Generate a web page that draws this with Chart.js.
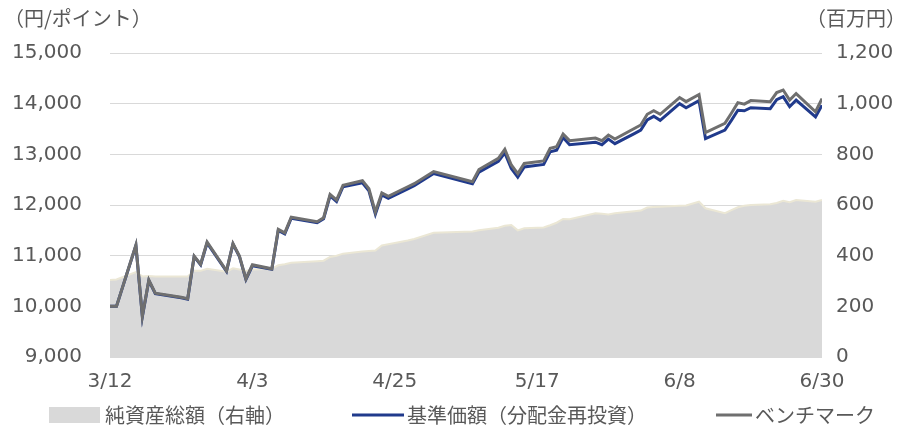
<!DOCTYPE html>
<html lang="ja">
<head>
<meta charset="utf-8">
<title>基準価額・純資産総額の推移</title>
<script src="https://cdn.jsdelivr.net/npm/chart.js@4.4.1/dist/chart.umd.min.js"></script>
<style>
  html, body { margin: 0; padding: 0; background: #fff; }
  #wrap { width: 907px; height: 432px; }
</style>
</head>
<body>
<div id="wrap"><canvas id="navChart" width="907" height="432"></canvas></div>
<script>
// データ (2020年)
const dates = [
  '3/12','3/13','3/16','3/17','3/18','3/19','3/23','3/24','3/25','3/26','3/27','3/30','3/31',
  '4/1','4/2','4/3','4/6','4/7','4/8','4/9','4/13','4/14','4/15','4/16','4/17','4/20','4/21','4/22','4/23','4/24','4/27','4/28',
  '5/1','5/7','5/8','5/11','5/12','5/13','5/14','5/15','5/18','5/19','5/20','5/21','5/22','5/26','5/27','5/28','5/29',
  '6/1','6/2','6/3','6/4','6/5','6/8','6/9','6/11','6/12','6/15','6/16','6/17','6/18','6/19','6/22','6/23','6/24','6/25','6/26','6/29','6/30'
];
const benchValues = [
  10000,10000,11210,9810,10520,10260,10180,10150,10990,10830,11270,10700,11240,
  10990,10540,10820,10740,11520,11450,11760,11670,11750,12210,12100,12390,12480,12320,11860,12240,12170,12360,12420,
  12660,12460,12700,12920,13100,12790,12620,12820,12870,13120,13150,13400,13270,13320,13270,13380,13300,
  13510,13580,13790,13860,13790,14120,14040,14180,13430,13610,13810,14020,13990,14060,14040,14220,14270,14070,14200,13840,14100
];
const navValues = [
  10000,10000,11200,9800,10510,10250,10170,10140,10980,10820,11250,10690,11230,
  10980,10530,10800,10730,11500,11430,11740,11650,11730,12180,12070,12360,12440,12280,11820,12200,12130,12320,12380,
  12620,12420,12650,12860,13030,12720,12550,12750,12800,13050,13080,13330,13190,13240,13190,13300,13210,
  13410,13480,13680,13750,13670,14000,13920,14060,13310,13480,13670,13870,13860,13920,13900,14080,14140,13940,14070,13740,13970
];
const assetValues = [
  304,306,335,318,320,318,318,318,340,340,348,337,350,
  345,340,345,348,362,366,372,378,380,395,400,408,416,418,420,440,445,460,466,
  490,495,500,510,518,521,500,508,511,520,530,545,544,567,565,563,567,
  575,578,590,592,593,597,598,613,587,568,580,591,597,600,603,608,617,611,620,613,620
];
const xTickLabels = ['3/12', '4/3', '4/25', '5/17', '6/8', '6/30'];

const textColor = '#595959';
const gridColor = '#d9d9d9';
const navColor = '#203a8c';
const benchColor = '#6f6f6f';
const areaColor = '#d9d9d9';
const areaBorder = '#ebe7d5';

// 3/12からの日数
function dayOf(label) {
    const parts = label.split('/').map(Number);
    return (Date.UTC(2020, parts[0] - 1, parts[1]) - Date.UTC(2020, 2, 12)) / 86400000;
}

function toPoints(values) {
    return dates.map((d, i) => ({ x: dayOf(d), y: values[i] }));
}

// 軸タイトルと凡例
const extras = {
    id: 'extras',
    afterDraw(chart) {
        const ctx = chart.ctx;
        const ds = chart.data.datasets;
        ctx.save();
        ctx.fillStyle = textColor;
        ctx.font = '20px "Noto Sans CJK JP"';
        ctx.textBaseline = 'middle';
        ctx.textAlign = 'left';
        ctx.fillText('（円/ポイント）', 4, 18);
        ctx.textAlign = 'right';
        ctx.fillText('（百万円）', 906, 18);

        const ly = 415;
        ctx.textAlign = 'left';
        // 純資産総額
        ctx.fillStyle = areaColor;
        ctx.fillRect(49, ly - 8, 51, 16);
        ctx.fillStyle = textColor;
        ctx.fillText(ds[2].label, 105, ly);
        // 基準価額
        ctx.strokeStyle = navColor;
        ctx.lineWidth = 3;
        ctx.beginPath();
        ctx.moveTo(352, ly);
        ctx.lineTo(404, ly);
        ctx.stroke();
        ctx.fillText(ds[1].label, 407, ly);
        // ベンチマーク
        ctx.strokeStyle = benchColor;
        ctx.beginPath();
        ctx.moveTo(716, ly);
        ctx.lineTo(752, ly);
        ctx.stroke();
        ctx.fillText(ds[0].label, 755, ly);
        ctx.restore();
    }
};

Chart.defaults.font.family = '"DejaVu Sans", "Noto Sans CJK JP", sans-serif';
Chart.defaults.font.size = 20;
Chart.defaults.color = textColor;

const ctx = document.getElementById('navChart').getContext('2d');
const navChart = new Chart(ctx, {
    type: 'line',
    data: {
        datasets: [{
            label: 'ベンチマーク',
            data: toPoints(benchValues),
            borderColor: benchColor,
            borderWidth: 3,
            pointRadius: 0,
            tension: 0,
            yAxisID: 'y'
        }, {
            label: '基準価額（分配金再投資）',
            data: toPoints(navValues),
            borderColor: navColor,
            borderWidth: 3,
            pointRadius: 0,
            tension: 0,
            yAxisID: 'y'
        }, {
            label: '純資産総額（右軸）',
            data: toPoints(assetValues),
            borderColor: areaBorder,
            borderWidth: 2,
            backgroundColor: areaColor,
            fill: 'origin',
            pointRadius: 0,
            tension: 0,
            yAxisID: 'y1'
        }]
    },
    options: {
        responsive: false,
        animation: false,
        layout: { padding: { top: 53, left: 0, right: 0, bottom: 0 } },
        plugins: {
            legend: { display: false },
            tooltip: { enabled: false }
        },
        scales: {
            x: {
                type: 'linear',
                min: 0,
                max: 110,
                grid: { display: false, drawTicks: false },
                border: { display: false },
                afterBuildTicks: function(axis) {
                    axis.ticks = xTickLabels.map(l => ({ value: dayOf(l) }));
                },
                afterFit: function(axis) { axis.height = 75; },
                ticks: {
                    maxRotation: 0,
                    autoSkip: false,
                    padding: 13,
                    callback: function(value, index) { return xTickLabels[index]; }
                }
            },
            y: {
                position: 'left',
                min: 9000,
                max: 15000,
                grid: { color: gridColor, lineWidth: 1, drawTicks: false },
                border: { display: false },
                afterFit: function(axis) { axis.width = 110; },
                ticks: {
                    stepSize: 1000,
                    padding: 28,
                    callback: function(value) { return value.toLocaleString('en-US'); }
                }
            },
            y1: {
                position: 'right',
                min: 0,
                max: 1200,
                grid: { display: false, drawTicks: false },
                border: { display: false },
                afterFit: function(axis) { axis.width = 85; },
                ticks: {
                    stepSize: 200,
                    padding: 14,
                    callback: function(value) { return value.toLocaleString('en-US'); }
                }
            }
        }
    },
    plugins: [extras]
});
</script>
</body>
</html>
